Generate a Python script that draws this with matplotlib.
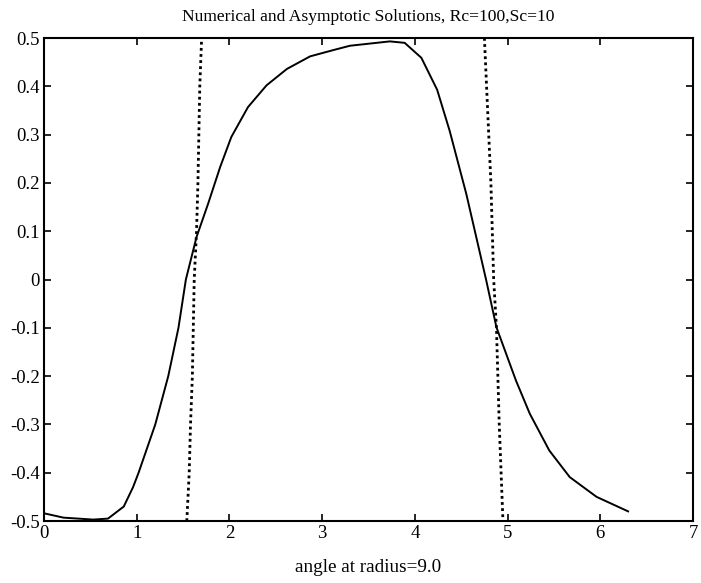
import matplotlib
matplotlib.use("Agg")
import matplotlib.pyplot as plt

plt.rcParams['font.family'] = ['Liberation Serif', 'DejaVu Serif']

# Numerical solution (solid)
num_x = [0.0, 0.21, 0.53, 0.69, 0.86, 0.96, 1.02, 1.20, 1.34, 1.45, 1.53, 1.645,
         1.77, 1.90, 2.02, 2.20, 2.40, 2.62, 2.87, 3.12, 3.30, 3.73, 3.89, 4.07,
         4.24, 4.375, 4.555, 4.77, 4.88, 5.09, 5.24, 5.45, 5.67, 5.96, 6.30]
num_y = [-0.484, -0.493, -0.497, -0.495, -0.47, -0.43, -0.40, -0.30, -0.20, -0.10,
         0.0, 0.088, 0.157, 0.233, 0.295, 0.357, 0.402, 0.436, 0.462, 0.475, 0.484,
         0.493, 0.49, 0.459, 0.393, 0.308, 0.177, -0.002, -0.099, -0.209, -0.278,
         -0.354, -0.409, -0.45, -0.48]

# Asymptotic solution (dotted), two branches
asym1_x = [1.54, 1.566, 1.58, 1.60, 1.62, 1.645, 1.66, 1.68, 1.70]
asym1_y = [-0.5, -0.4, -0.3, -0.2, 0.0, 0.1, 0.2, 0.4, 0.5]
asym2_x = [4.75, 4.82, 4.85, 4.88, 4.91, 4.95]
asym2_y = [0.5, 0.2, 0.0, -0.1, -0.3, -0.5]

title = "Numerical and Asymptotic Solutions, Rc=100,Sc=10"
xlabel = "angle at radius=9.0"

fig = plt.figure(figsize=(7.01, 5.83), dpi=100)
ax = fig.add_axes([0.0628, 0.1063, 0.9886 - 0.0628, 0.9348 - 0.1063])
ax.plot(num_x, num_y, color='black', lw=1.4)
ax.plot(asym1_x, asym1_y, color='black', lw=2.0, ls=(0, (1, 1.2)))
ax.plot(asym2_x, asym2_y, color='black', lw=2.0, ls=(0, (1, 1.2)))

ax.set_xlim(0, 7)
ax.set_ylim(-0.5, 0.5)
ax.set_xticks(range(0, 8))
ax.set_yticks([-0.5, -0.4, -0.3, -0.2, -0.1, 0, 0.1, 0.2, 0.3, 0.4, 0.5])
ax.set_yticklabels(['-0.5', '-0.4', '-0.3', '-0.2', '-0.1', '0', '0.1', '0.2', '0.3', '0.4', '0.5'])
ax.tick_params(direction='in', top=True, right=True, length=5, width=1.2, labelsize=13.5, pad=3)
for s in ax.spines.values():
    s.set_linewidth(1.5)
ax.set_title(title, fontsize=12.6, pad=12)
ax.set_xlabel(xlabel, fontsize=13.8, labelpad=12)

fig.savefig("out.png", dpi=100)
